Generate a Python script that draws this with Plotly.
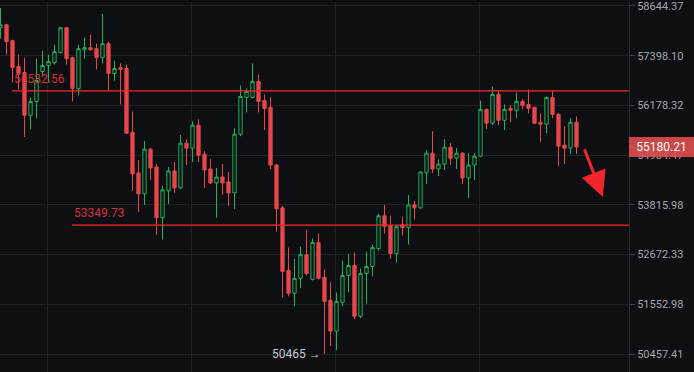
import math
import plotly.graph_objects as go

# ---------------- data ----------------
opens = [58096, 58171, 57772, 57130, 56983, 55940, 56276, 57008, 57154, 57227,
         57473, 58096, 57349, 56593, 57548, 57598, 57573, 57349, 57697, 56959,
         57105, 57081, 55534, 54564, 54073, 55128, 54704, 53519, 54143, 54611,
         54213, 55271, 55152, 55701, 55008, 54657, 54330, 54470, 54353, 54096,
         55486, 56373, 56373, 56764, 56300, 56130, 54751, 53747, 52314, 51800,
         52135, 52672, 52113, 52947, 52157, 51643, 50961, 51598, 52202, 52426,
         51290, 52247, 52404, 52809, 53564, 53336, 52695, 53358, 53290, 53816,
         53747, 54564, 55032, 54657, 54774, 55175, 54914, 55032, 54447, 54751,
         54961, 56083, 55749, 56447, 55820, 56107, 56059, 56276, 56203, 56130,
         55772, 55725, 56373, 55963, 55223, 55152, 55772]
highs = [58594, 58196, 57797, 57423, 57349, 56373, 57325, 57523, 57423, 57672,
         58121, 58121, 57374, 57672, 57847, 57921, 57697, 58445, 57747, 57276,
         57203, 57179, 56035, 54868, 55319, 55152, 54774, 54260, 54704, 54821,
         55462, 55366, 55796, 55844, 55080, 54891, 54681, 54774, 54587, 55629,
         56666, 56593, 57203, 56935, 56447, 56373, 54774, 53793, 52832, 52583,
         52855, 53244, 53038, 53153, 52336, 52045, 51822, 52538, 52695, 52718,
         52359, 52741, 52901, 53610, 53816, 53564, 53336, 53541, 54050, 53909,
         54611, 55104, 55558, 54891, 55366, 55271, 55152, 55056, 55032, 55032,
         56300, 56107, 56642, 56544, 56203, 56178, 56495, 56324, 56569, 56154,
         55987, 56398, 56544, 55987, 55677, 55868, 55916]
lows = [57822, 57423, 56739, 56569, 55414, 55605, 55868, 56886, 56739, 57179,
        57448, 57179, 56276, 56422, 57325, 57523, 57057, 57203, 56544, 56788,
        56203, 55486, 54143, 53656, 53816, 54400, 53130, 53015, 53839, 54096,
        54190, 54751, 54821, 54821, 54213, 54307, 53519, 54050, 53793, 53724,
        55438, 56011, 56349, 56011, 55581, 54657, 53198, 51710, 51732, 51509,
        51911, 52202, 52090, 52113, 50465, 50633, 50545, 51509, 51822, 51224,
        51246, 51575, 52180, 52764, 53153, 52583, 52493, 53107, 52901, 53473,
        53724, 54307, 54564, 54494, 54634, 54751, 54657, 54307, 53979, 54400,
        54938, 55605, 55701, 55701, 55581, 55772, 55868, 56083, 55987, 55725,
        55295, 55510, 55868, 54727, 54774, 55008, 55008]
closes = [58171, 57747, 57105, 56959, 55940, 56276, 56788, 57154, 57252, 57498,
          58096, 57325, 56593, 57573, 57598, 57548, 57349, 57697, 56959, 57081,
          57057, 55510, 54540, 54073, 55128, 54681, 53519, 54166, 54611, 54213,
          55271, 55152, 55701, 54984, 54634, 54330, 54470, 54330, 54096, 55486,
          56398, 56520, 56764, 56276, 56107, 54751, 53724, 52292, 51800, 52135,
          52672, 52247, 52947, 52135, 51620, 50961, 51620, 52202, 52426, 51290,
          52247, 52404, 52832, 53564, 53313, 52695, 53313, 53290, 53816, 53747,
          54587, 55032, 54657, 54774, 55175, 54914, 55032, 54447, 54751, 54961,
          56083, 55749, 56447, 55820, 56083, 56059, 56276, 56178, 56107, 55749,
          55725, 56373, 55963, 55199, 55152, 55772, 55180.21]
index = list(range(len(opens)))

tick_vals = [58644.37, 57398.10, 56178.32, 54984.47, 53815.98, 52672.33, 51552.98, 50457.41]
tick_text = ["58644.37", "57398.10", "56178.32", "54984.47", "53815.98", "52672.33", "51552.98", "50457.41"]
grid_x = [7.75, 31.75, 55.75, 79.75]

levels = [56532.56, 53349.73]
level_labels = ["56532.56", "53349.73"]
level_start = [1.92, 11.92]

last_price = 55180.21
last_label = "55180.21"
low_price = 50465
low_label = "50465 \u2192"
low_index = 54
arrow_head = (100.4, 54002)

BG = "#0e0f12"
GREEN = "#1fb35b"
RED = "#e6474a"
LINE_RED = "#f52a2a"

x_range = [-0.083, 104.75]
y_range = [math.log10(50068.7), math.log10(58745.2)]

fig = go.Figure()
fig.add_trace(go.Candlestick(
    x=index, open=opens, high=highs, low=lows, close=closes,
    increasing=dict(line=dict(color=GREEN, width=1), fillcolor=BG),
    decreasing=dict(line=dict(color=RED, width=1), fillcolor=RED),
    whiskerwidth=0, showlegend=False, hoverinfo="skip",
))

for lv, st in zip(levels, level_start):
    fig.add_trace(go.Scatter(x=[st, x_range[1]], y=[lv, lv], mode="lines",
                             line=dict(color=LINE_RED, width=1.2),
                             showlegend=False, hoverinfo="skip"))

annotations = []
for lv, st, lab in zip(levels, level_start, level_labels):
    annotations.append(dict(x=st, y=math.log10(lv), xref="x", yref="y", text=lab,
                            showarrow=False, xanchor="left", yanchor="bottom",
                            xshift=0, yshift=3,
                            font=dict(family="Roboto", size=12, color="#d3303a")))
annotations.append(dict(x=low_index, y=math.log10(low_price), xref="x", yref="y",
                        text=low_label, showarrow=False, xanchor="right", yanchor="middle",
                        xshift=-2, font=dict(family="Roboto", size=12, color="#c9cbcf")))
annotations.append(dict(x=1, y=math.log10(last_price), xref="paper", yref="y",
                        text=last_label, showarrow=False, xanchor="left", yanchor="middle",
                        width=63, height=18, borderpad=1, borderwidth=0,
                        bgcolor="rgba(222,78,78,0.9)",
                        font=dict(family="Roboto", size=12, color="#ffffff")))
annotations.append(dict(x=arrow_head[0], y=math.log10(arrow_head[1]), xref="x", yref="y",
                        text="", showarrow=True, ax=-19, ay=-49,
                        arrowhead=2, arrowsize=1.7, arrowwidth=3, arrowcolor="#f0262a"))

fig.update_layout(
    width=694, height=372,
    margin=dict(l=0, r=65, t=0, b=0),
    paper_bgcolor=BG, plot_bgcolor=BG,
    boxgap=0.22,
    annotations=annotations,
    shapes=[dict(type="line", xref="paper", yref="y", x0=1, x1=1.008,
                 y0=last_price, y1=last_price, line=dict(color="#ffffff", width=1))],
    xaxis=dict(range=x_range, tickvals=grid_x, showticklabels=False,
               showgrid=True, gridcolor="#1f2124", gridwidth=1, zeroline=False,
               rangeslider=dict(visible=False), showline=False, ticks=""),
    yaxis=dict(type="log", side="right", range=y_range, tickvals=tick_vals,
               ticktext=tick_text, showgrid=True, gridcolor="#1f2124",
               zeroline=False, showline=True, linecolor="#2c2e33", linewidth=1,
               ticks="outside", ticklen=5, tickcolor="#3a3d42",
               ticklabeloverflow="allow",
               tickfont=dict(family="Roboto", size=11, color="#a3a7ad")),
    font=dict(family="Roboto"),
)

fig.write_html("out.html")
